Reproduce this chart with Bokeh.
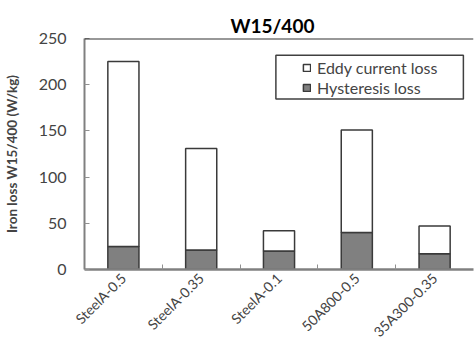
import math
from bokeh.plotting import figure
from bokeh.models import (ColumnDataSource, FixedTicker, Range1d, Span, Legend,
                          LegendItem, BoxAnnotation)
from bokeh.embed import file_html
from bokeh.resources import INLINE

categories = ["SteelA-0.5", "SteelA-0.35", "SteelA-0.1", "50A800-0.5", "35A300-0.35"]
hysteresis = [25, 21, 20, 40, 17]
eddy = [200, 110, 22, 111, 30]
y_ticks = [0, 50, 100, 150, 200, 250]

FONT = "Lato"
n = len(categories)
centers = [i + 0.5 for i in range(n)]
boundaries = [i for i in range(1, n)]
totals = [h + e for h, e in zip(hysteresis, eddy)]

src = ColumnDataSource(dict(x=centers, hyst=hysteresis, total=totals, zero=[0] * n))

p = figure(width=474, height=353, output_backend="svg", toolbar_location=None,
           x_range=Range1d(0, n), y_range=Range1d(0, 250),
           min_border_left=83, min_border_top=38, min_border_bottom=84, min_border_right=1)
p.outline_line_color = None
p.grid.grid_line_color = None
p.background_fill_color = "white"

r_h = p.vbar(x="x", bottom="zero", top="hyst", width=0.4, source=src,
             fill_color="#808080", line_color="#3a3a3a", line_width=1.5)
r_e = p.vbar(x="x", bottom="hyst", top="total", width=0.4, source=src,
             fill_color="white", line_color="#3a3a3a", line_width=1.5)

p.add_layout(Span(location=250, dimension="width", line_color="#333333", line_width=2))

# Title
p.title.text = "W15/400"
p.title.text_font = FONT
p.title.text_font_size = "19px"
p.title.text_font_style = "bold"
p.title.align = "left"
p.title.offset = 146
p.title.text_color = "black"
p.title.standoff = 4

# Y axis
ya = p.yaxis[0]
ya.ticker = FixedTicker(ticks=y_ticks)
ya.axis_label = "Iron loss W15/400 (W/kg)"
ya.axis_label_text_font = FONT
ya.axis_label_text_font_size = "13.5px"
ya.axis_label_text_font_style = "bold"
ya.axis_label_standoff = 16
ya.major_label_text_font = FONT
ya.major_label_text_font_size = "16px"
ya.major_label_standoff = 18
ya.major_tick_in = 5
ya.major_tick_out = 0
ya.major_tick_line_color = "#909090"
ya.minor_tick_line_color = None
ya.axis_line_color = "#808080"
ya.axis_line_width = 2

# X axis: category names at the centres, tick marks at the boundaries
xa = p.xaxis[0]
xa.ticker = FixedTicker(ticks=centers, minor_ticks=boundaries)
xa.major_label_overrides = {c: name for c, name in zip(centers, categories)}
xa.major_label_orientation = math.pi / 4
xa.major_label_text_font = FONT
xa.major_label_text_font_size = "14px"
xa.major_label_standoff = 6
xa.major_tick_line_color = None
xa.major_tick_in = 0
xa.major_tick_out = 0
xa.minor_tick_in = 5
xa.minor_tick_out = 0
xa.minor_tick_line_color = "#909090"
xa.axis_line_color = "#808080"
xa.axis_line_width = 2.5

# Legend frame
p.add_layout(BoxAnnotation(left=2.46, right=4.87, bottom=184.6, top=232,
                           fill_color=None, line_color="#404040", line_width=1.5,
                           line_alpha=1))

legend = Legend(items=[LegendItem(label="Eddy current loss", renderers=[r_e]),
                       LegendItem(label="Hysteresis loss", renderers=[r_h])],
                location=(218, 172), padding=0, spacing=1, margin=0,
                glyph_width=9, glyph_height=9, label_standoff=6,
                label_text_font=FONT, label_text_font_size="16px",
                border_line_color=None, background_fill_alpha=0)
p.add_layout(legend)

open("out.html", "w").write(file_html(p, INLINE))
